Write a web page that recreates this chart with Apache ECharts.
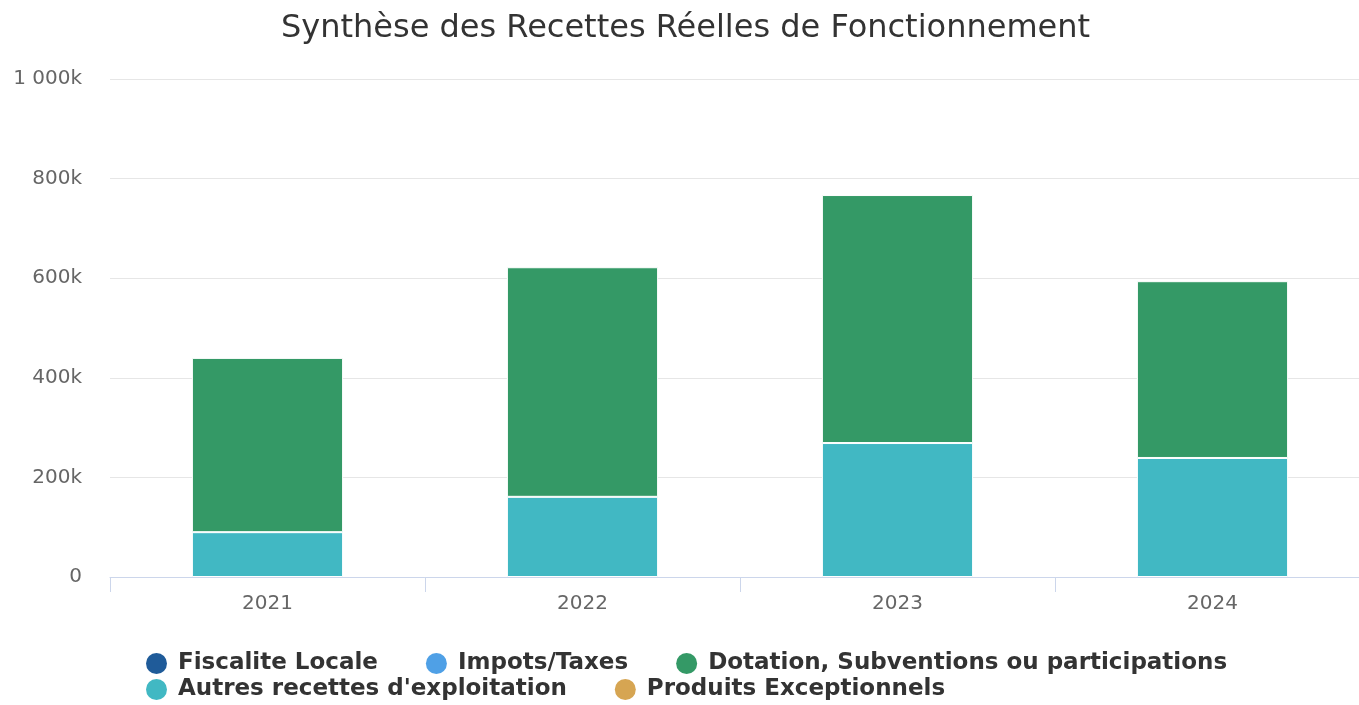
<!DOCTYPE html>
<html>
<head>
<meta charset="utf-8">
<script src="https://cdn.jsdelivr.net/npm/echarts@6/dist/echarts.min.js"></script>
<style>
  html, body { margin: 0; padding: 0; background: #fff; overflow: hidden; }
  #chart { width: 1371px; height: 705px; }
</style>
</head>
<body>
<div id="chart"></div>
<script>
// recettes reelles de fonctionnement, en euros
const years = ['2021', '2022', '2023', '2024'];
const fiscaliteLocale = [null, null, null, null];
const impotsTaxes = [null, null, null, null];
const dotations = [350000, 461000, 498000, 355000];
const autresRecettes = [90000, 161000, 269000, 239000];
const produitsExceptionnels = [null, null, null, null];

const FONT = 'DejaVu Sans';
const chart = echarts.init(document.getElementById('chart'));

function fmtK(v) {
    if (v === 0) return '0';
    const k = Math.round(v / 1000);
    return String(k).replace(/\B(?=(\d{3})+(?!\d))/g, ' ') + 'k';
}

function barSerie(name, color, data) {
    return {
        name: name,
        type: 'bar',
        stack: 'total',
        data: data,
        barWidth: '48%',
        itemStyle: { color: color, borderColor: '#fff', borderWidth: 1 },
        emphasis: { disabled: true }
    };
}

function legendRow(top, names) {
    return {
        left: 141,
        top: top,
        itemGap: 48,
        icon: 'circle',
        itemWidth: 33,
        itemHeight: 21,
        itemStyle: { borderWidth: 0 },
        textStyle: { fontSize: 23, fontWeight: 'bold', color: '#333', fontFamily: FONT },
        data: names
    };
}

const option = {
    animation: false,
    textStyle: { fontFamily: FONT },
    title: {
        text: 'Synthèse des Recettes Réelles de Fonctionnement',
        left: 'center',
        top: 8,
        textStyle: { fontSize: 32, fontWeight: 'normal', color: '#333', fontFamily: FONT }
    },
    legend: [
        legendRow(647, ['Fiscalite Locale', 'Impots/Taxes', 'Dotation, Subventions ou participations']),
        legendRow(673, ['Autres recettes d\'exploitation', 'Produits Exceptionnels'])
    ],
    grid: { left: 110, top: 79, width: 1260, height: 498 },
    xAxis: {
        type: 'category',
        data: years,
        axisLine: { lineStyle: { color: '#ccd6eb' } },
        axisTick: { show: true, length: 15, lineStyle: { color: '#ccd6eb' } },
        axisLabel: { color: '#666', fontSize: 20, margin: 17, fontFamily: FONT }
    },
    yAxis: {
        type: 'value',
        min: 0,
        max: 1000000,
        interval: 200000,
        axisLabel: { color: '#666', fontSize: 20, margin: 28, fontFamily: FONT, formatter: fmtK },
        splitLine: { lineStyle: { color: '#e6e6e6' } }
    },
    series: [
        barSerie('Fiscalite Locale', '#1f5b99', fiscaliteLocale),
        barSerie('Impots/Taxes', '#4fa0e6', impotsTaxes),
        barSerie('Autres recettes d\'exploitation', '#41b8c3', autresRecettes),
        barSerie('Dotation, Subventions ou participations', '#349966', dotations),
        barSerie('Produits Exceptionnels', '#d6a552', produitsExceptionnels)
    ]
};

chart.setOption(option);
window.addEventListener('resize', () => chart.resize());
</script>
</body>
</html>
